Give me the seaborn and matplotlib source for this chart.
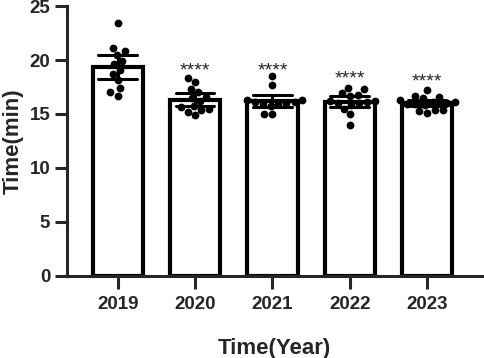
import matplotlib
matplotlib.use("Agg")
import matplotlib.pyplot as plt
import seaborn as sns
import pandas as pd
import numpy as np

years = ["2019", "2020", "2021", "2022", "2023"]
vals_2019 = [23.4, 21.1, 20.8, 20.5, 19.9, 19.6, 19.1, 18.7, 18.1, 17.4, 16.7, 17.0]
vals_2020 = [18.3, 18.0, 17.3, 17.0, 16.6, 16.5, 16.2, 15.7, 15.6, 15.5, 15.4, 15.2, 14.9]
vals_2021 = [18.5, 17.7, 16.3, 15.9, 16.1, 16.0, 15.9, 16.3, 16.1, 15.7, 15.0, 15.0]
vals_2022 = [17.4, 16.9, 16.8, 16.7, 17.3, 16.0, 15.8, 16.1, 16.0, 16.2, 16.2, 15.0, 14.0, 15.5]
vals_2023 = [17.2, 16.7, 16.6, 16.5, 16.3, 16.0, 15.9, 16.1, 16.1, 15.9, 15.4, 15.4, 15.3, 15.1, 15.8]
sig_labels = ["", "****", "****", "****", "****"]
sig_y = [None, 18.6, 18.6, 17.8, 17.5]

all_vals = [vals_2019, vals_2020, vals_2021, vals_2022, vals_2023]
df = pd.DataFrame({
    "year": np.repeat(years, [len(v) for v in all_vals]),
    "time": np.concatenate(all_vals),
})

sns.set_style("ticks")
plt.rcParams["font.family"] = ["Liberation Sans", "DejaVu Sans"]

fig = plt.figure(figsize=(4.84, 3.58), dpi=100)
ax = fig.add_axes([0.138, 0.230, 0.858, 0.753])

sns.barplot(data=df, x="year", y="time", order=years, color="white",
            edgecolor="black", linewidth=3.0, width=0.65,
            errorbar=("se", 2), capsize=0.5,
            err_kws={"color": "black", "linewidth": 2.2}, ax=ax)
sns.swarmplot(data=df, x="year", y="time", order=years, color="black",
              size=5.6, ax=ax)

# significance marks vs 2019
for i, (lab, y) in enumerate(zip(sig_labels, sig_y)):
    if lab:
        ax.text(i, y, lab, ha="center", va="baseline", fontsize=14)

ax.set_ylim(0, 25)
ax.set_yticks([0, 5, 10, 15, 20, 25])
ax.set_xlim(-0.66, 4.71)
sns.despine(ax=ax)
for s in ["left", "bottom"]:
    ax.spines[s].set_linewidth(2.2)
ax.tick_params(width=2.2, length=9, labelsize=13.5, pad=3)
ax.tick_params(axis="x", pad=6)
for t in ax.get_xticklabels() + ax.get_yticklabels():
    t.set_fontweight("bold")
ax.set_xlabel("Time(Year)", fontsize=16, fontweight="bold", labelpad=18)
ax.set_ylabel("Time(min)", fontsize=16, fontweight="bold", labelpad=4)

fig.savefig("out.png", dpi=100)
